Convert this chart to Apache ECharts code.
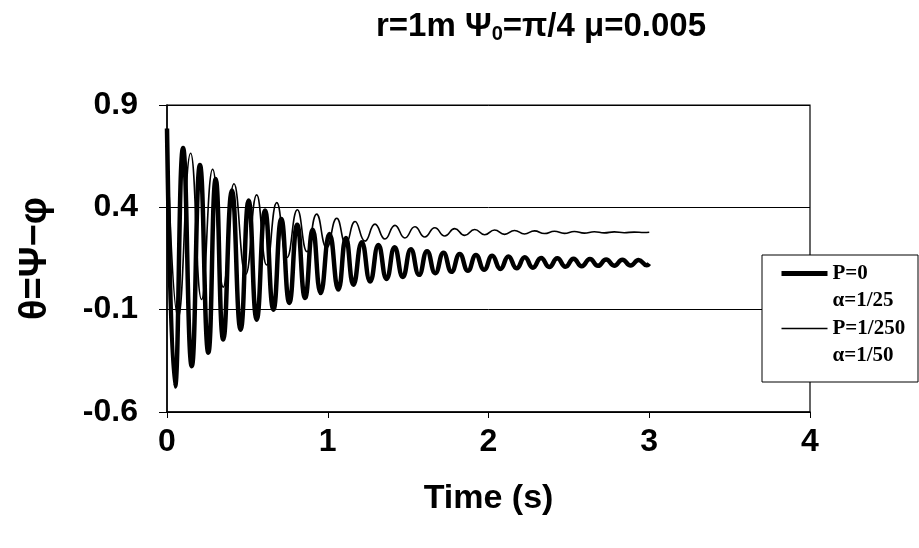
<!DOCTYPE html>
<html>
<head>
<meta charset="utf-8">
<script src="https://cdn.jsdelivr.net/npm/echarts@6/dist/echarts.min.js"></script>
<style>
  html, body { margin: 0; padding: 0; background: #fff; }
  #chart { width: 919px; height: 548px; }
</style>
</head>
<body>
<div id="chart"></div>
<script>
// P=0, alpha=1/25 (thick) : extrema
var thickT = [0, 0.05, 0.10, 0.154, 0.205, 0.257, 0.303, 0.35, 0.404, 0.458, 0.508, 0.558,
  0.61, 0.662, 0.711, 0.761, 0.81, 0.859, 0.907, 0.956, 1.011, 1.066, 1.113, 1.16, 1.212, 1.264,
  1.315, 1.366, 1.416, 1.467, 1.517, 1.568, 1.618, 1.669, 1.72, 1.77, 1.821, 1.872, 1.922, 1.973,
  2.023, 2.074, 2.124, 2.175, 2.226, 2.276, 2.327, 2.378, 2.428, 2.479, 2.529, 2.58, 2.631, 2.681,
  2.732, 2.782, 2.833, 2.884, 2.934, 2.985, 3.0];
var thickV = [0.785, -0.475, 0.69, -0.376, 0.607, -0.31, 0.538, -0.246, 0.482, -0.198, 0.433, -0.149,
  0.385, -0.10, 0.343, -0.067, 0.315, -0.043, 0.291, -0.019, 0.27, -0.002, 0.25, 0.022, 0.23, 0.038,
  0.216, 0.05, 0.205, 0.06, 0.195, 0.07, 0.186, 0.078, 0.178, 0.085, 0.172, 0.09, 0.167, 0.095,
  0.163, 0.099, 0.16, 0.102, 0.156, 0.105, 0.153, 0.108, 0.151, 0.11, 0.149, 0.112, 0.147, 0.114,
  0.145, 0.115, 0.144, 0.116, 0.143, 0.117, 0.125];

// P=1/250, alpha=1/50 (thin)
var thinT = [0, 0.07, 0.147, 0.215, 0.284, 0.35, 0.417, 0.49, 0.558, 0.62, 0.683, 0.747, 0.811,
  0.871, 0.931, 0.993, 1.056, 1.113, 1.17, 1.232, 1.294, 1.356, 1.418, 1.48, 1.542, 1.604, 1.666,
  1.728, 1.79, 1.852, 1.914, 1.976, 2.038, 2.10, 2.162, 2.224, 2.286, 2.348, 2.41, 2.472, 2.534,
  2.596, 2.658, 2.72, 2.782, 2.844, 2.906, 2.968, 3.0];
var thinV = [0.785, -0.14, 0.664, -0.05, 0.586, 0.01, 0.515, 0.072, 0.461, 0.118, 0.423, 0.155, 0.388,
  0.183, 0.367, 0.203, 0.347, 0.221, 0.331, 0.235, 0.318, 0.245, 0.312, 0.25, 0.305, 0.255, 0.30,
  0.26, 0.296, 0.263, 0.292, 0.266, 0.289, 0.268, 0.287, 0.27, 0.285, 0.272, 0.283, 0.273, 0.282,
  0.274, 0.281, 0.275, 0.28, 0.276, 0.279, 0.277, 0.278];

var seriesNames = ['P=0', 'P=1/250'];
var alphaNames = ['α=1/25', 'α=1/50'];
var lineWidths = [4.5, 1.6];
var xTicks = [0, 1, 2, 3, 4];
var yTicks = [-0.6, -0.1, 0.4, 0.9];

function pairs(t, v) {
  var out = [];
  for (var i = 0; i < t.length; i++) out.push([t[i], v[i]]);
  return out;
}

var font = 'Liberation Sans, Arial, sans-serif';
var chart = echarts.init(document.getElementById('chart'));
chart.setOption({
  animation: false,
  backgroundColor: '#fff',
  title: {
    left: 536,
    top: 4,
    textAlign: 'center',
    text: '{a|r=1m Ψ}{s|0}{a|=π/4 μ=0.005}',
    textStyle: {
      rich: {
        a: { fontFamily: font, fontWeight: 'bold', fontSize: 33, color: '#000' },
        s: { fontFamily: font, fontWeight: 'bold', fontSize: 20, color: '#000', padding: [15, 0, 0, 0] }
      }
    }
  },
  grid: {
    left: 167, right: 109, top: 105, bottom: 136,
    show: true, borderColor: '#000', borderWidth: 1.2,
    outerBoundsMode: 'none'
  },
  legend: {
    left: 779,
    top: 238,
    orient: 'vertical',
    padding: 0,
    itemGap: -18,
    itemWidth: 46,
    itemHeight: 10,
    z: 20,
    data: [
      { name: seriesNames[0], lineStyle: { width: 5 } },
      { name: seriesNames[1], lineStyle: { width: 1.5 } }
    ],
    itemStyle: { opacity: 0 },
    formatter: function (name) {
      var i = seriesNames.indexOf(name);
      return '{s| }\n{t|' + name + '}\n{t|' + alphaNames[i] + '}';
    },
    textStyle: {
      rich: {
        s: { fontSize: 17, lineHeight: 27 },
        t: { fontFamily: 'Liberation Serif, Times New Roman, serif', fontWeight: 'bold', fontSize: 21, lineHeight: 27, color: '#000' }
      }
    }
  },
  graphic: [{
    type: 'rect',
    z: 15,
    shape: { x: 762, y: 255, width: 156, height: 127 },
    style: { fill: '#fff', stroke: '#000', lineWidth: 1 }
  }],
  xAxis: {
    type: 'value',
    min: xTicks[0],
    max: xTicks[xTicks.length - 1],
    interval: 1,
    name: 'Time (s)',
    nameLocation: 'middle',
    nameGap: 70,
    nameTextStyle: { fontFamily: font, fontWeight: 'bold', fontSize: 34, color: '#000' },
    axisLine: { onZero: false, lineStyle: { color: '#000', width: 1.5 } },
    axisTick: { show: true, length: 6, lineStyle: { color: '#000' } },
    axisLabel: { margin: 14, fontFamily: font, fontWeight: 'bold', fontSize: 32, color: '#000' },
    splitLine: { show: false }
  },
  yAxis: {
    type: 'value',
    min: yTicks[0],
    max: yTicks[yTicks.length - 1],
    interval: 0.5,
    name: 'θ=Ψ−φ',
    nameLocation: 'middle',
    nameRotate: 90,
    nameGap: 112,
    nameTextStyle: { fontFamily: font, fontWeight: 'bold', fontSize: 38, color: '#000' },
    axisLine: { lineStyle: { color: '#000', width: 1.5 } },
    axisTick: { show: true, length: 8, lineStyle: { color: '#000' } },
    axisLabel: {
      margin: 29, fontFamily: font, fontWeight: 'bold', fontSize: 32, color: '#000',
      formatter: function (v) { return (Math.round(v * 10) / 10).toFixed(1); }
    },
    splitLine: { show: true, lineStyle: { color: '#000', width: 1 } }
  },
  series: [
    {
      name: seriesNames[0],
      type: 'line',
      data: pairs(thickT, thickV),
      smooth: 0.5,
      symbol: 'none',
      lineStyle: { color: '#000', width: lineWidths[0] },
      itemStyle: { color: '#000' }
    },
    {
      name: seriesNames[1],
      type: 'line',
      data: pairs(thinT, thinV),
      smooth: 0.5,
      symbol: 'none',
      lineStyle: { color: '#000', width: lineWidths[1] },
      itemStyle: { color: '#000' }
    }
  ]
});
</script>
</body>
</html>
